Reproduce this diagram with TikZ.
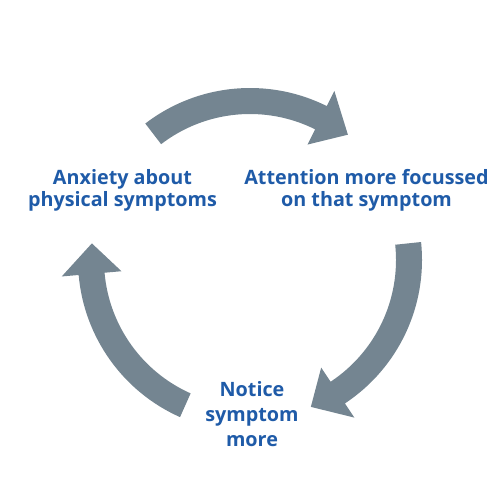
\documentclass[tikz,border=0pt]{standalone}
\usepackage{fontspec}
\setmainfont{Open Sans}
\usepackage{tikz}
\definecolor{arrowgrey}{HTML}{748591}
\definecolor{textblue}{HTML}{1F5BA8}
\tikzset{
	cycletext/.style={text=textblue, font=\bfseries\fontsize{11.25}{12.5}\selectfont, align=center},
	cyclearrow/.style={fill=arrowgrey, shift={(5,4.8)}}
}

\begin{document}
\begin{tikzpicture}
				\useasboundingbox (0,0) rectangle (10,10);
				\node[cycletext] (anxiety) at (2.45,6.19) {Anxiety about\\physical symptoms};
				\node[cycletext] (attention) at (7.33,6.19) {Attention more focussed\\on that symptom};
				\node[cycletext, font=\bfseries\fontsize{11.25}{14.2}\selectfont] (notice) at (5.04,1.71) {Notice\\symptom\\more};
				% tail / head base / tip angles
				\foreach \t/\b/\e in {127.5/63.5/52, 6/-56.5/-67.5, 246/185/174}
					\fill[cyclearrow] (\t:3.44) arc[start angle=\t, end angle=\b, radius=3.44] -- (\b:3.78) -- (\e:3.18) -- (\b:2.58) -- (\b:2.92) arc[start angle=\b, end angle=\t, radius=2.92] -- cycle;
			\end{tikzpicture}
\end{document}
